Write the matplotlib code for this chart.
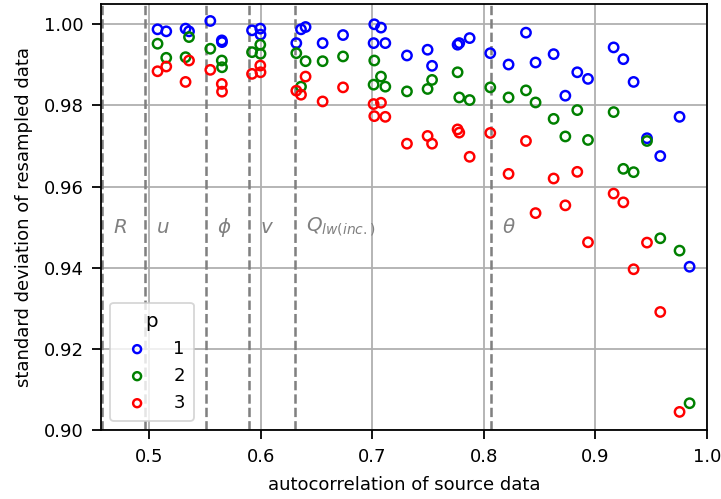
import numpy as np
import matplotlib
matplotlib.use("Agg")
import matplotlib.pyplot as plt

# autocorrelation of each source variable
autocorr = [0.5074, 0.5152, 0.5325, 0.5356, 0.5547, 0.5650, 0.5652, 0.5921,
            0.5995, 0.5997, 0.6318, 0.6360, 0.6401, 0.6554, 0.6737, 0.7011,
            0.7017, 0.7077, 0.7116, 0.7310, 0.7495, 0.7535, 0.7764, 0.7779,
            0.7872, 0.8057, 0.8221, 0.8377, 0.8463, 0.8625, 0.8730, 0.8837,
            0.8933, 0.9163, 0.9250, 0.9342, 0.9462, 0.9581, 0.9754, 0.9844]

# standard deviation of the resampled data for p = 1, 2, 3
std_p1 = [0.99876, 0.99826, 0.99893, 0.99826, 1.00082, 0.99603, 0.99561, 0.99851,
          0.99893, 0.99745, 0.99536, 0.99876, 0.99933, 0.99536, 0.99735, 0.99536,
          1.00000, 0.99918, 0.99536, 0.99231, 0.99373, 0.98976, 0.99497, 0.99536,
          0.99660, 0.99288, 0.99008, 0.99794, 0.99058, 0.99264, 0.98240, 0.98817,
          0.98654, 0.99430, 0.99140, 0.98579, 0.97191, 0.96752, 0.97719, 0.94024]
std_p2 = [0.99521, 0.99174, 0.99189, 0.99685, 0.99397, 0.99107, 0.98941, 0.99313,
          0.99497, 0.99273, 0.99288, 0.98463, 0.99090, 0.99090, 0.99207, 0.98512,
          0.99107, 0.98711, 0.98463, 0.98346, 0.98406, 0.98629, 0.98817, 0.98197,
          0.98133, 0.98445, 0.98197, 0.98371, 0.98073, 0.97669, 0.97235, 0.97885,
          0.97149, 0.97836, 0.96437, 0.96355, 0.97124, 0.94726, 0.94421, 0.90660]
std_p3 = [0.98842, 0.98959, 0.98579, 0.99107, 0.98877, 0.98530, 0.98339, 0.98778,
          0.98983, 0.98817, 0.98363, 0.98264, 0.98711, 0.98098, 0.98445, 0.98034,
          0.97736, 0.98066, 0.97719, 0.97057, 0.97248, 0.97057, 0.97409, 0.97330,
          0.96734, 0.97322, 0.96313, 0.97124, 0.95346, 0.96199, 0.95537, 0.96363,
          0.94627, 0.95827, 0.95611, 0.93962, 0.94619, 0.92909, 0.90446, np.nan]

series_labels = ["1", "2", "3"]
series_colors = ["b", "g", "r"]

# variable groups: left boundary and label
group_bounds = [0.4578, 0.4964, 0.5505, 0.5891, 0.6303, 0.8065]
group_names = [r"$R$", r"$u$", r"$\phi$", r"$v$", r"$Q_{lw(inc.)}$", r"$\theta$"]

fig = plt.figure(figsize=(721 / 130, 499 / 130), dpi=130)
ax = fig.add_axes([101 / 721, 1 - 430 / 499, 606 / 721, 426 / 499])

ax.grid(True, color="#b0b0b0", linewidth=1.0, zorder=0)
ax.set_axisbelow(True)

for b, name in zip(group_bounds, group_names):
    ax.axvline(b, color="gray", linestyle="--", linewidth=1.4, zorder=1)
    ax.text(b + 0.01, 0.95, name, color="gray", fontsize=11,
            ha="left", va="center", zorder=2)

for vals, lab, col in zip([std_p1, std_p2, std_p3], series_labels, series_colors):
    ax.scatter(autocorr, vals, s=27, facecolors="none", edgecolors=col,
               linewidths=1.35, label=lab, zorder=3)

ax.set_xlim(0.4567, 1.0)
ax.set_ylim(0.90, 1.005)
ax.set_xticks([0.5, 0.6, 0.7, 0.8, 0.9, 1.0])
ax.set_yticks([0.90, 0.92, 0.94, 0.96, 0.98, 1.00])
ax.tick_params(length=5, width=1.0, pad=4.7)
for sp in ax.spines.values():
    sp.set_linewidth(1.0)

ax.set_xlabel("autocorrelation of source data", labelpad=5.7)
ax.set_ylabel("standard deviation of resampled data", labelpad=5.7)

ax.legend(title="p", loc="lower left", markerscale=0.85, fontsize=10,
          title_fontsize=11, handletextpad=1.0, borderpad=0.5)

fig.savefig("out.png", dpi=130)
